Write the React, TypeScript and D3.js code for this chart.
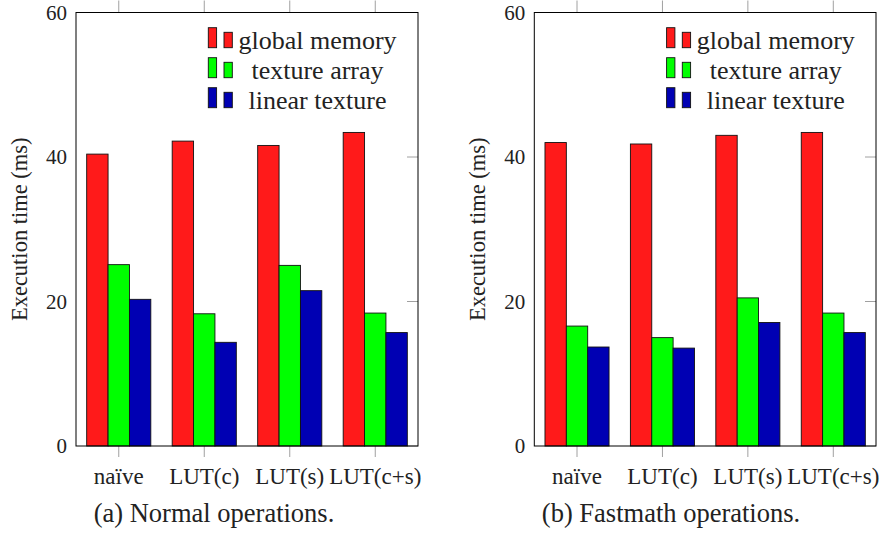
import React, { useEffect, useRef } from 'react';
import * as d3 from 'd3';

const categories = ['naïve', 'LUT(c)', 'LUT(s)', 'LUT(c+s)'];
const seriesNames = ['global memory', 'texture array', 'linear texture'];
const seriesColors = ['#ff1a1a', '#00ff00', '#0000b3'];

// normal operations (a)
const normalGlobal = [40.4, 42.2, 41.6, 43.4];
const normalTexArray = [25.1, 18.3, 25.0, 18.4];
const normalLinear = [20.3, 14.35, 21.5, 15.7];

// fastmath operations (b)
const fastGlobal = [42.0, 41.8, 43.0, 43.4];
const fastTexArray = [16.6, 15.0, 20.5, 18.4];
const fastLinear = [13.7, 13.55, 17.1, 15.7];

const yTicks = [0, 20, 40, 60];
const yLabel = 'Execution time (ms)';

const FONT = '"Liberation Serif", serif';

function drawPanel(svg, left, right, values, caption, captionX) {
  const top = 12.5;
  const bottom = 446;

  const x0 = d3.scaleBand().domain(categories).range([left, right]).padding(0);
  const bw = x0.bandwidth();
  const x1 = d3.scaleBand().domain(seriesNames).range([bw / 8, (bw * 7) / 8]).padding(0);
  const y = d3.scaleLinear().domain([0, 60]).range([bottom, top]);

  const g = svg.append('g');

  // tick marks (gray)
  categories.forEach(c => {
    const cx = x0(c) + bw / 2;
    g.append('line').attr('x1', cx).attr('x2', cx).attr('y1', 0.5).attr('y2', top)
      .attr('stroke', '#a0a0a0').attr('stroke-width', 1);
    g.append('line').attr('x1', cx).attr('x2', cx).attr('y1', bottom).attr('y2', bottom + 11)
      .attr('stroke', '#a0a0a0').attr('stroke-width', 1);
  });
  yTicks.forEach(t => {
    g.append('line').attr('x1', right - 11).attr('x2', right).attr('y1', y(t)).attr('y2', y(t))
      .attr('stroke', '#a0a0a0').attr('stroke-width', 1);
  });

  // bars
  const rows = categories.map((c, i) => ({ cat: c, vals: values.map(v => v[i]) }));
  g.append('g')
    .selectAll('g')
    .data(rows)
    .join('g')
      .attr('transform', d => `translate(${x0(d.cat)},0)`)
    .selectAll('rect')
    .data(d => d.vals.map((v, k) => ({ key: seriesNames[k], v, k })))
    .join('rect')
      .attr('x', d => x1(d.key))
      .attr('width', x1.bandwidth())
      .attr('y', d => y(d.v))
      .attr('height', d => y(0) - y(d.v))
      .attr('fill', d => seriesColors[d.k])
      .attr('stroke', '#111')
      .attr('stroke-width', 0.9);

  // frame
  g.append('rect').attr('x', left).attr('y', top).attr('width', right - left).attr('height', bottom - top)
    .attr('fill', 'none').attr('stroke', '#000').attr('stroke-width', 1);

  // y tick labels
  g.selectAll('.ylab').data(yTicks).join('text')
    .attr('x', left - 9)
    .attr('y', d => y(d))
    .attr('dy', '0.35em')
    .attr('text-anchor', 'end')
    .style('font-family', FONT)
    .style('font-size', '21px')
    .attr('fill', '#222')
    .text(d => d);

  // x tick labels
  g.selectAll('.xlab').data(categories).join('text')
    .attr('x', d => x0(d) + bw / 2)
    .attr('y', 484)
    .attr('text-anchor', 'middle')
    .style('font-family', FONT)
    .style('font-size', '23px')
    .attr('fill', '#222')
    .text(d => d);

  // y axis label
  g.append('text')
    .attr('transform', `translate(${left - 49},${(top + bottom) / 2}) rotate(-90)`)
    .attr('text-anchor', 'middle')
    .style('font-family', FONT)
    .style('font-size', '22.5px')
    .attr('fill', '#222')
    .text(yLabel);

  // legend
  const lg = g.append('g').attr('transform', `translate(${left},0)`);
  seriesNames.forEach((name, k) => {
    const base = 47.7 + k * 30;
    lg.append('rect').attr('x', 132.3).attr('y', base - 20).attr('width', 8.3).attr('height', 20)
      .attr('fill', seriesColors[k]).attr('stroke', '#111').attr('stroke-width', 0.9);
    lg.append('rect').attr('x', 148).attr('y', base - 15.4).attr('width', 8.3).attr('height', 15.4)
      .attr('fill', seriesColors[k]).attr('stroke', '#111').attr('stroke-width', 0.9);
    lg.append('text')
      .attr('x', 241.5)
      .attr('y', base + 1)
      .attr('text-anchor', 'middle')
      .style('font-family', FONT)
      .style('font-size', '26px')
      .attr('fill', '#222')
      .text(name);
  });

  // caption
  g.append('text')
    .attr('x', captionX)
    .attr('y', 522)
    .attr('text-anchor', 'middle')
    .style('font-family', FONT)
    .style('font-size', '26.5px')
    .attr('fill', '#222')
    .text(caption);
}

function App() {
  const ref = useRef(null);
  useEffect(() => {
    const svg = d3.select(ref.current);
    svg.selectAll('*').remove();
    drawPanel(svg, 76, 418, [normalGlobal, normalTexArray, normalLinear], '(a) Normal operations.', 214);
    drawPanel(svg, 534.3, 876, [fastGlobal, fastTexArray, fastLinear], '(b) Fastmath operations.', 671);
  }, []);

  return (
    <svg
      ref={ref}
      width={881}
      height={533}
      style={{ position: 'absolute', left: 0, top: 0, background: '#fff' }}
    ></svg>
  );
}

export default App;
